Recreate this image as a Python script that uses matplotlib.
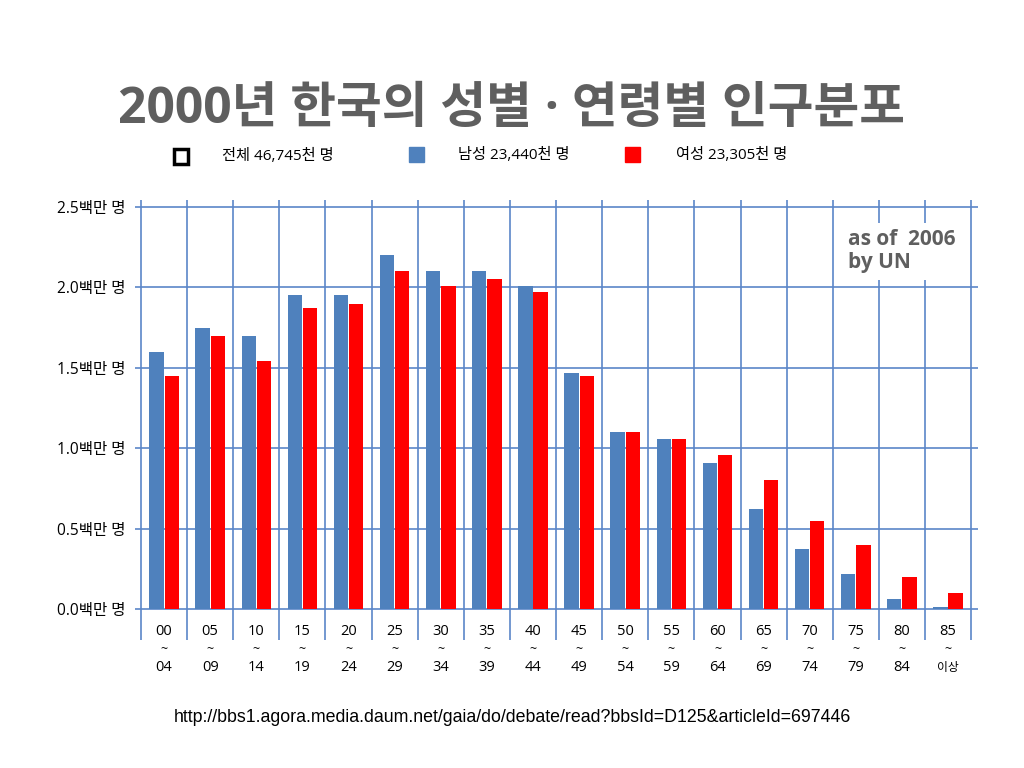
import numpy as np
import matplotlib
matplotlib.use('Agg')
import matplotlib.pyplot as plt
from matplotlib.patches import Rectangle

plt.rcParams['font.family'] = ['Open Sans', 'Noto Sans CJK KR', 'DejaVu Sans']

# age groups (start / end)
age_from = ['00', '05', '10', '15', '20', '25', '30', '35', '40',
            '45', '50', '55', '60', '65', '70', '75', '80', '85']
age_to = ['04', '09', '14', '19', '24', '29', '34', '39', '44',
          '49', '54', '59', '64', '69', '74', '79', '84', '이상']
# population, millions
male = [1.60, 1.75, 1.70, 1.95, 1.95, 2.20, 2.10, 2.10, 2.01,
        1.47, 1.10, 1.06, 0.91, 0.62, 0.37, 0.22, 0.06, 0.015]
female = [1.45, 1.70, 1.54, 1.87, 1.90, 2.10, 2.01, 2.05, 1.97,
          1.45, 1.10, 1.06, 0.96, 0.80, 0.55, 0.40, 0.20, 0.10]
yticks = [0.0, 0.5, 1.0, 1.5, 2.0, 2.5]

blue = '#4F81BD'
red = '#FF0000'
grid = '#5B86C8'
gray = '#5F5F5F'

fig = plt.figure(figsize=(10.24, 7.68), dpi=100)
ax = fig.add_axes([135/1024, 128/768, 843/1024, 440/768])

x = np.arange(len(male))
ax.bar(x + 0.335, male, width=0.31, color=blue, zorder=3)
ax.bar(x + 0.665, female, width=0.31, color=red, zorder=3)

for v in range(len(male) + 1):
    ax.axvline(v, color=grid, lw=1.2, zorder=2)
for t in yticks:
    ax.axhline(t, color=grid, lw=1.2, zorder=2)

ax.set_xlim(-0.13, 18.15)
ax.set_ylim(-0.193, 2.544)
ax.set_xticks([])
ax.set_yticks(yticks)
ax.set_yticklabels(['%.1f백만 명' % t for t in yticks], fontsize=11.2)
ax.tick_params(axis='y', length=0, pad=7)
for s in ax.spines.values():
    s.set_visible(False)

for i in range(len(age_from)):
    ax.text(i + 0.5, -0.143, age_from[i], ha='center', va='center', fontsize=10.5)
    ax.text(i + 0.5, -0.255, '~', ha='center', va='center', fontsize=9, clip_on=False)
    ax.text(i + 0.5, -0.365, age_to[i], ha='center', va='center',
            fontsize=10.5 if i < 17 else 8.5, clip_on=False)

ax.text(15.34, 2.225, 'as of  2006\nby UN', ha='left', va='center', fontsize=15,
        fontweight='bold', color=gray, linespacing=1.1, zorder=5,
        bbox=dict(facecolor='white', edgecolor='none', pad=5))

fig.text(0.500, 0.857, '2000년 한국의 성별 · 연령별 인구분포', ha='center', va='center',
         fontsize=35.8, fontweight='bold', color=gray)

# legend drawn by hand
fig.patches.append(Rectangle((174/1024, 1 - 164/768), 14/1024, 15/768,
                             transform=fig.transFigure, fill=False,
                             edgecolor='black', lw=2.5))
fig.patches.append(Rectangle((409/1024, 1 - 162/768), 15/1024, 15/768,
                             transform=fig.transFigure, color=blue))
fig.patches.append(Rectangle((625/1024, 1 - 162/768), 15/1024, 15/768,
                             transform=fig.transFigure, color=red))
fig.text(222/1024, 1 - 156/768, '전체 46,745천 명', va='center', fontsize=11)
fig.text(458/1024, 1 - 155/768, '남성 23,440천 명', va='center', fontsize=11)
fig.text(676/1024, 1 - 155/768, '여성 23,305천 명', va='center', fontsize=11)

fig.text(0.5, 1 - 717/768,
         'http://bbs1.agora.media.daum.net/gaia/do/debate/read?bbsId=D125&articleId=697446',
         ha='center', va='center', fontsize=12.8, family=['Liberation Sans', 'DejaVu Sans'])

fig.savefig('out.png', dpi=100)
